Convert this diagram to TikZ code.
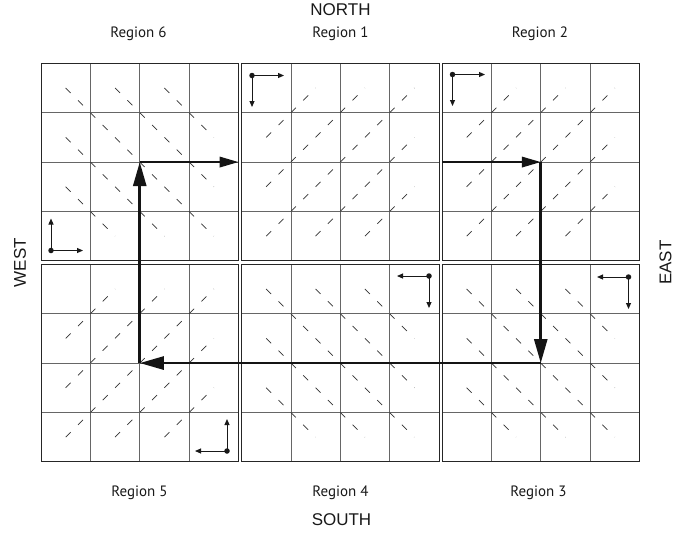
\documentclass[tikz,border=0pt]{standalone}
\usepackage{fontspec}
\setmainfont{Liberation Sans}
\newfontfamily\regfont{PT Sans}
\usetikzlibrary{arrows.meta}
\begin{document}
\begin{tikzpicture}[x=1pt,y=-1pt,
  gridline/.style={line width=0.65pt, black!60},
  boxline/.style={line width=0.9pt, black!85},
  dashline/.style={line width=0.75pt, black!80, dash pattern=on 7pt off 10.45pt},
  route/.style={line width=2.6pt, black!92, line cap=butt},
  tipbig/.style={-{Triangle[length=24pt,width=13pt]}},
  tipmid/.style={-{Triangle[length=19pt,width=10.5pt]}},
  small/.style={line width=1pt, black!90, -{Triangle[length=6pt,width=5pt]}},
  dotc/.style={circle, fill=black!90, inner sep=0pt, minimum size=5.5pt},
  dirlabel/.style={font=\fontsize{17}{20}\selectfont, text=black!90, inner sep=0pt},
  reglabel/.style={font=\regfont\fontsize{15}{17}\selectfont, text=black!90, inner sep=0pt, anchor=base}
]
\useasboundingbox (0,0) rectangle (690,533);
\fill[white] (0,0) rectangle (690,533);

% regions: name / x / y / diagonal direction (0 = "\", 1 = "/")
\foreach \rn/\xo/\yo/\dd in {6/41/63.3/0, 1/241.5/63.3/1, 2/442/63.3/1, 5/41/264.3/1, 4/241.5/264.3/0, 3/442/264.3/0}{
  \begin{scope}[shift={(\xo,\yo)}, x=49.375pt, y=-49.375pt]
    \foreach \k in {1,2,3}{
      \draw[gridline] (\k,0) -- (\k,4);
      \draw[gridline] (0,\k) -- (4,\k);
    }
    \ifnum\dd=0
      \foreach \a/\b/\c/\d in {0.5/0.5/3.5/3.5, 1.5/0.5/3.5/2.5, 2.5/0.5/3.5/1.5, 0.5/1.5/2.5/3.5, 0.5/2.5/1.5/3.5}
        \draw[dashline] (\a,\b) -- (\c,\d);
    \else
      \foreach \a/\b/\c/\d in {0.5/1.5/1.5/0.5, 0.5/2.5/2.5/0.5, 0.5/3.5/3.5/0.5, 1.5/3.5/3.5/1.5, 2.5/3.5/3.5/2.5}
        \draw[dashline] (\a,\b) -- (\c,\d);
    \fi
    \draw[boxline] (0,0) rectangle (4,4);
  \end{scope}
}

% small orientation symbols
\node[dotc] (d6) at (51,250.5) {};
\coordinate (d6a) at (51,218.5);
\coordinate (d6b) at (83,250.5);
\node[dotc] (d1) at (252,75.5) {};
\coordinate (d1a) at (284,75.5);
\coordinate (d1b) at (252,107);
\node[dotc] (d2) at (452.5,74.5) {};
\coordinate (d2a) at (485,74.5);
\coordinate (d2b) at (452.5,106);
\node[dotc] (d5) at (227,451) {};
\coordinate (d5a) at (227,419);
\coordinate (d5b) at (195,451);
\node[dotc] (d4) at (429,276) {};
\coordinate (d4a) at (397,276);
\coordinate (d4b) at (429,308);
\node[dotc] (d3) at (628.5,277) {};
\coordinate (d3a) at (597,277);
\coordinate (d3b) at (628.5,309);
\foreach \s in {6,1,2,5,4,3}{
  \draw[small] (d\s.center) -- (d\s a);
  \draw[small] (d\s.center) -- (d\s b);
}

% route
\coordinate (p0) at (442,162.05);
\coordinate (p1) at (540.75,162.05);
\coordinate (p2) at (540.75,363.05);
\coordinate (p3) at (139.75,363.05);
\coordinate (p4) at (139.75,162.05);
\coordinate (p5) at (238.5,162.05);
\draw[route, line width=2pt, tipmid] (p0) -- (p1);
\draw[route, tipbig] (p1) -- (p2);
\draw[route, tipbig] (p2) -- (p3);
\draw[route, tipbig] (p3) -- (p4);
\draw[route, line width=2pt, tipmid] (p4) -- (p5);

% labels
\node[dirlabel] (north) at (340.5,9.5) {NORTH};
\node[dirlabel] (south) at (341.5,519.5) {SOUTH};
\node[dirlabel, rotate=90] (west) at (20,262.5) {WEST};
\node[dirlabel, rotate=90] (east) at (665.5,262.5) {EAST};
\node[reglabel] (r6) at (138.5,37.5) {Region 6};
\node[reglabel] (r1) at (340.5,37.5) {Region 1};
\node[reglabel] (r2) at (540,37.5) {Region 2};
\node[reglabel] (r5) at (139.5,496.5) {Region 5};
\node[reglabel] (r4) at (340.5,496.5) {Region 4};
\node[reglabel] (r3) at (538.5,496.5) {Region 3};
\end{tikzpicture}
\end{document}
